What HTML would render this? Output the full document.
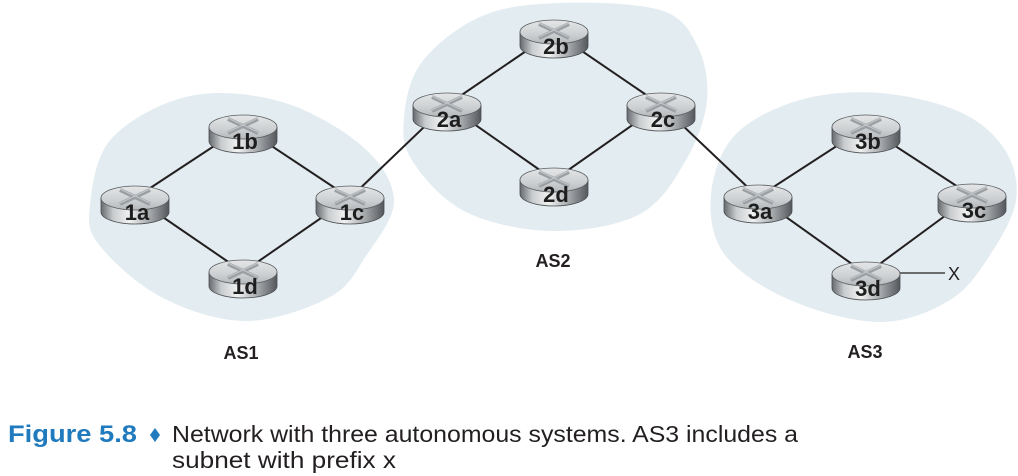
<!DOCTYPE html>
<html>
<head>
<meta charset="utf-8">
<style>
  html, body { margin: 0; padding: 0; background: #ffffff; }
  body { width: 1018px; height: 476px; overflow: hidden; }
  svg { display: block; }
</style>
</head>
<body>
<svg width="1018" height="476" viewBox="0 0 1018 476" xmlns="http://www.w3.org/2000/svg">
  <defs>
    <linearGradient id="topg" x1="0" y1="0" x2="0" y2="1">
      <stop offset="0" stop-color="#e4e6e7"/>
      <stop offset="0.6" stop-color="#cdd0d2"/>
      <stop offset="1" stop-color="#b4b8bb"/>
    </linearGradient>
    <linearGradient id="sideg" x1="0" y1="0" x2="1" y2="0">
      <stop offset="0" stop-color="#666a6e"/>
      <stop offset="0.18" stop-color="#c9ccce"/>
      <stop offset="0.42" stop-color="#f0f1f1"/>
      <stop offset="0.72" stop-color="#a4a8ab"/>
      <stop offset="1" stop-color="#54585c"/>
    </linearGradient>
    <g id="router">
      <path d="M -34 0 L -34 14 A 34 12 0 0 0 34 14 L 34 0 Z" fill="url(#sideg)" stroke="#4a4d50" stroke-width="0.8"/>
      <ellipse cx="0" cy="0" rx="34" ry="12" fill="url(#topg)" stroke="#5a5d60" stroke-width="0.8"/>
      <g stroke="#9a9fa3" stroke-width="4" stroke-linecap="butt">
        <line x1="-15" y1="-8" x2="15" y2="6"/>
        <line x1="-15" y1="6" x2="15" y2="-8"/>
      </g>
      <g stroke="#c3c6c8" stroke-width="1.2">
        <line x1="-15" y1="-9" x2="15" y2="5"/>
        <line x1="-15" y1="5" x2="15" y2="-9"/>
      </g>
    </g>
  </defs>

  <!-- AS blobs -->
  <path fill="#e3ecf1" d="M90,205 C92,187 95.3,156.2 112,138 C128.7,119.8 161.7,102 190,96 C218.3,90 253.3,93.7 282,102 C310.7,110.3 343.3,129.7 362,146 C380.7,162.3 393.3,181.7 394,200 C394.7,218.3 376.7,239.8 366,256 C355.3,272.2 349.8,286.2 330,297 C310.2,307.8 274.8,320.8 247,321 C219.2,321.2 187.5,310.5 163,298 C138.5,285.5 112.2,261.5 100,246 C87.8,230.5 88,223 90,205 Z"/>
  <path fill="#e3ecf1" d="M404,118 C405.5,101.3 409,79 422,62 C435,45 459,25.8 482,16 C505,6.2 530.3,4 560,3 C589.7,2 637.2,3 660,10 C682.8,17 689.2,30 697,45 C704.8,60 708.8,80.8 707,100 C705.2,119.2 697.2,141 686,160 C674.8,179 662.2,202.2 640,214 C617.8,225.8 582,231.3 553,231 C524,230.7 489.3,223.5 466,212 C442.7,200.5 423.3,177.7 413,162 C402.7,146.3 402.5,134.7 404,118 Z"/>
  <path fill="#e3ecf1" d="M711,195 C712.7,175 720.2,150.8 735,135 C749.8,119.2 775.8,107 800,100 C824.2,93 853.3,91 880,93 C906.7,95 939.2,102.5 960,112 C980.8,121.5 995.7,135.3 1005,150 C1014.3,164.7 1018.5,182.5 1016,200 C1013.5,217.5 1001,238.3 990,255 C979,271.7 968.3,288.8 950,300 C931.7,311.2 906.7,322 880,322 C853.3,322 815.8,311.2 790,300 C764.2,288.8 738.2,272.5 725,255 C711.8,237.5 709.3,215 711,195 Z"/>

  <!-- links -->
  <g stroke="#231f20" stroke-width="2" fill="none">
    <line x1="135" y1="198" x2="243" y2="127"/>
    <line x1="243" y1="127" x2="350" y2="198"/>
    <line x1="135" y1="198" x2="243" y2="272"/>
    <line x1="243" y1="272" x2="350" y2="198"/>
    <line x1="350" y1="198" x2="447" y2="105"/>
    <line x1="447" y1="105" x2="554" y2="32"/>
    <line x1="554" y1="32" x2="661" y2="105"/>
    <line x1="447" y1="105" x2="554" y2="180"/>
    <line x1="554" y1="180" x2="661" y2="105"/>
    <line x1="661" y1="105" x2="758" y2="197"/>
    <line x1="758" y1="197" x2="866" y2="127"/>
    <line x1="866" y1="127" x2="972" y2="196"/>
    <line x1="758" y1="197" x2="866" y2="274"/>
    <line x1="866" y1="274" x2="972" y2="196"/>
  </g>
  <line x1="898" y1="273" x2="945" y2="273" stroke="#231f20" stroke-width="1.2"/>
  <text x="948" y="280" font-family="Liberation Sans, sans-serif" font-size="18" fill="#231f20">X</text>

  <!-- routers -->
  <g font-family="Liberation Sans, sans-serif" font-weight="bold" font-size="22" fill="#1e1e1e" text-anchor="middle">
    <use href="#router" x="135" y="198"/><text x="137" y="220">1a</text>
    <use href="#router" x="243" y="127"/><text x="245" y="149">1b</text>
    <use href="#router" x="350" y="198"/><text x="352" y="220">1c</text>
    <use href="#router" x="243" y="272"/><text x="245" y="294">1d</text>

    <use href="#router" x="447" y="105"/><text x="449" y="127">2a</text>
    <use href="#router" x="554" y="32"/><text x="556" y="54">2b</text>
    <use href="#router" x="661" y="105"/><text x="663" y="127">2c</text>
    <use href="#router" x="554" y="180"/><text x="556" y="202">2d</text>

    <use href="#router" x="758" y="197"/><text x="760" y="219">3a</text>
    <use href="#router" x="866" y="127"/><text x="868" y="149">3b</text>
    <use href="#router" x="972" y="196"/><text x="974" y="218">3c</text>
    <use href="#router" x="866" y="274"/><text x="868" y="296">3d</text>
  </g>

  <!-- AS labels -->
  <g font-family="Liberation Sans, sans-serif" font-weight="bold" font-size="18" fill="#231f20" text-anchor="middle">
    <text x="241" y="359">AS1</text>
    <text x="553" y="267">AS2</text>
    <text x="865" y="358">AS3</text>
  </g>

  <!-- caption -->
  <text x="8" y="442" font-family="Liberation Sans, sans-serif" font-weight="bold" font-size="24" fill="#1f7bbd" textLength="129" lengthAdjust="spacingAndGlyphs">Figure 5.8</text>
  <polygon points="155,428 160,435 155,442 150,435" fill="#1f7bbd"/>
  <text x="172" y="442" font-family="Liberation Sans, sans-serif" font-size="23" fill="#231f20" textLength="626" lengthAdjust="spacingAndGlyphs">Network with three autonomous systems. AS3 includes a</text>
  <text x="172" y="468" font-family="Liberation Sans, sans-serif" font-size="23" fill="#231f20" textLength="224" lengthAdjust="spacingAndGlyphs">subnet with prefix x</text>
</svg>
</body>
</html>
